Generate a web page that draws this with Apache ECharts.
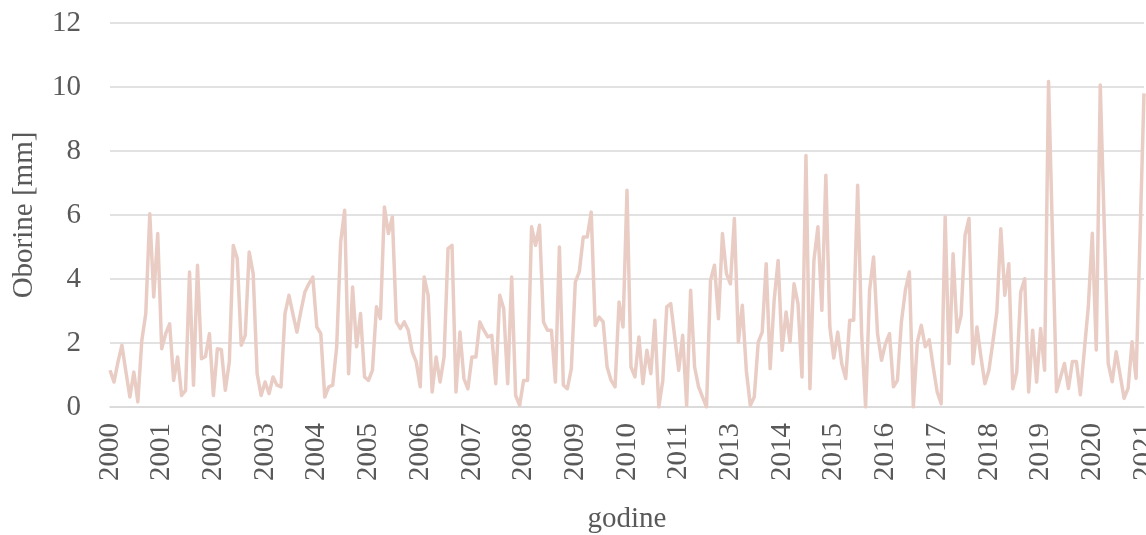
<!DOCTYPE html>
<html>
<head>
<meta charset="utf-8">
<script src="https://cdn.jsdelivr.net/npm/echarts@6/dist/echarts.min.js"></script>
<style>html,body{margin:0;padding:0;background:#fff}#c{width:1146px;height:535px}</style>
</head>
<body>
<div id="c"></div>
<script>
// Monthly series starting January 2000 (261 months)
const startYear = 2000;
const precipitation = [
1.15,0.78,1.4,1.93,1.1,0.31,1.09,0.16,2.08,2.92,6.04,3.44,5.42,1.82,2.29,2.6,0.83,1.56,0.36,0.52,
4.22,0.68,4.43,1.51,1.58,2.29,0.36,1.82,1.79,0.52,1.41,5.05,4.64,1.93,2.24,4.84,4.17,1.04,0.36,0.78,
0.42,0.94,0.68,0.63,2.92,3.49,2.9,2.34,3.0,3.59,3.85,4.06,2.5,2.29,0.31,0.63,0.68,1.88,5.16,6.15,
1.04,3.75,1.88,2.92,0.94,0.83,1.15,3.13,2.76,6.25,5.42,5.94,2.66,2.45,2.66,2.4,1.72,1.41,0.63,4.06,
3.49,0.47,1.56,0.78,1.56,4.95,5.05,0.47,2.34,0.89,0.57,1.56,1.56,2.66,2.4,2.19,2.24,0.73,3.49,3.07,
0.73,4.06,0.36,0.05,0.83,0.83,5.63,5.05,5.68,2.66,2.4,2.4,0.78,5.0,0.68,0.57,1.2,3.9,4.22,5.31,
5.31,6.09,2.55,2.81,2.66,1.25,0.83,0.63,3.28,2.5,6.77,1.25,0.94,2.19,0.73,1.77,1.04,2.71,0.0,0.83,
3.13,3.23,2.19,1.15,2.24,0.05,3.65,1.25,0.63,0.31,0.0,3.96,4.43,2.76,5.42,4.17,3.85,5.89,2.03,3.18,
1.15,0.05,0.31,2.03,2.34,4.48,1.2,3.33,4.58,1.77,2.97,2.03,3.85,3.23,0.94,7.86,0.57,4.58,5.63,3.02,
7.24,2.5,1.53,2.34,1.35,0.89,2.71,2.71,6.93,2.29,0.0,3.65,4.69,2.29,1.46,1.98,2.29,0.63,0.83,2.66,
3.65,4.22,0.0,2.03,2.55,1.88,2.1,1.25,0.47,0.1,5.94,1.35,4.79,2.34,2.86,5.36,5.89,1.35,2.5,1.56,
0.73,1.15,2.03,2.97,5.57,3.49,4.48,0.57,1.09,3.59,4.01,0.47,2.4,0.78,2.45,1.15,10.17,5.3,0.48,0.93,
1.36,0.58,1.42,1.42,0.38,1.78,3.14,5.43,1.78,10.06,5.7,1.36,0.79,1.73,1.0,0.27,0.58,2.04,0.9,5.3,
9.8
];
const months = precipitation.map((_, i) => {
  const y = startYear + Math.floor(i / 12);
  const m = (i % 12) + 1;
  return y + '-' + (m < 10 ? '0' + m : m);
});
const yTicks = [0, 2, 4, 6, 8, 10, 12];
const xAxisTitle = 'godine';
const yAxisTitle = 'Oborine [mm]';

const font = 'Liberation Serif, Times New Roman, serif';
const chart = echarts.init(document.getElementById('c'), null, {renderer: 'canvas'});
chart.setOption({
  animation: false,
  backgroundColor: '#ffffff',
  grid: {left: 110, right: 2, top: 23, bottom: 128, containLabel: false, outerBoundsMode: 'none'},
  xAxis: {
    type: 'category',
    data: months,
    boundaryGap: false,
    name: xAxisTitle,
    nameLocation: 'middle',
    nameGap: 98,
    nameTextStyle: {fontFamily: font, fontSize: 29, color: '#595959'},
    axisLine: {show: true, lineStyle: {color: '#d9d9d9', width: 1.5}},
    axisTick: {show: false},
    axisLabel: {
      interval: 12,
      rotate: 90,
      margin: 16,
      fontFamily: font, fontSize: 29, color: '#595959',
      formatter: v => v.slice(0, 4)
    },
    splitLine: {show: false}
  },
  yAxis: {
    type: 'value',
    min: yTicks[0],
    max: yTicks[yTicks.length - 1],
    interval: 2,
    name: yAxisTitle,
    nameLocation: 'middle',
    nameGap: 71,
    nameTextStyle: {fontFamily: font, fontSize: 29, color: '#595959'},
    axisLine: {show: false},
    axisTick: {show: false},
    axisLabel: {margin: 29, fontFamily: font, fontSize: 29, color: '#595959'},
    splitLine: {show: true, lineStyle: {color: '#d9d9d9', width: 1.5}}
  },
  series: [{
    type: 'line',
    data: precipitation,
    showSymbol: false,
    symbol: 'none',
    lineStyle: {color: '#e9cdc5', width: 3.5, join: 'round'},
    itemStyle: {color: '#e9cdc5'}
  }]
});
</script>
</body>
</html>
